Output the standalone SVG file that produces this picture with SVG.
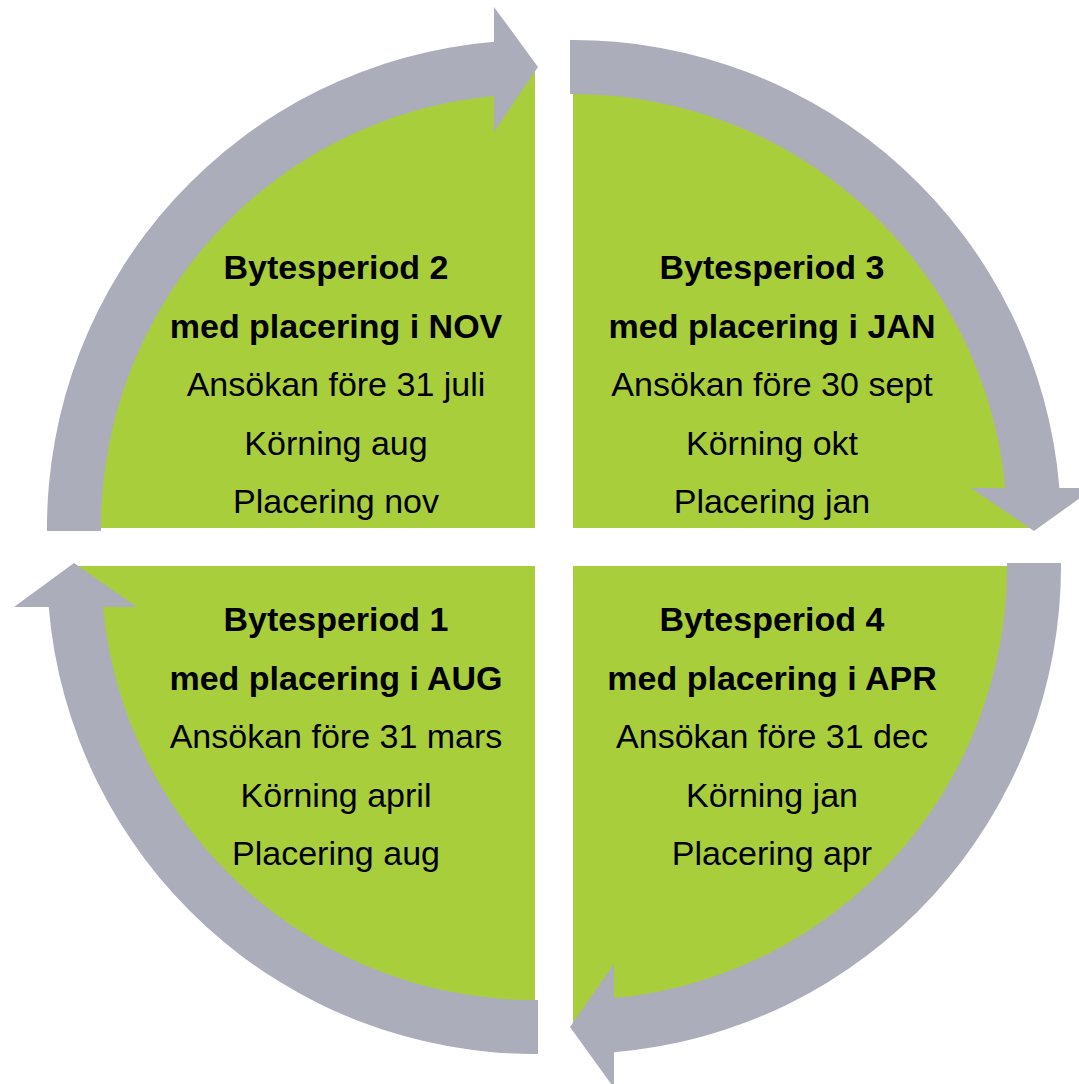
<svg xmlns="http://www.w3.org/2000/svg" width="1079" height="1084" viewBox="0 0 1079 1084">
  <style>
    .quad { fill: #A9CE3B; }
    .arrow { fill: #ACADBA; }
    text { font-family: "Liberation Sans", Arial, sans-serif; font-size: 34px; fill: #000; text-anchor: middle; }
    .title { font-weight: 700; }
  </style>
  <rect width="1079" height="1084" fill="#fff"/>
  <g id="period2">
    <path class="quad" d="M535,528 L74,528 A461,461 0 0 1 535,67 Z"/>
    <text class="title" x="336" y="279">Bytesperiod 2</text>
    <text class="title" x="336" y="337.5">med placering i NOV</text>
    <text x="336" y="396">Ansökan före 31 juli</text>
    <text x="336" y="454.5">Körning aug</text>
    <text x="336" y="513">Placering nov</text>
  </g>
  <g id="period3">
    <path class="quad" d="M573,528 L573,67 A461,461 0 0 1 1034,528 Z"/>
    <text class="title" x="772" y="279">Bytesperiod 3</text>
    <text class="title" x="772" y="337.5">med placering i JAN</text>
    <text x="772" y="396">Ansökan före 30 sept</text>
    <text x="772" y="454.5">Körning okt</text>
    <text x="772" y="513">Placering jan</text>
  </g>
  <g id="period4">
    <path class="quad" d="M573,566 L1034,566 A461,461 0 0 1 573,1027 Z"/>
    <text class="title" x="772" y="631">Bytesperiod 4</text>
    <text class="title" x="772" y="689.5">med placering i APR</text>
    <text x="772" y="748">Ansökan före 31 dec</text>
    <text x="772" y="806.5">Körning jan</text>
    <text x="772" y="865">Placering apr</text>
  </g>
  <g id="period1">
    <path class="quad" d="M535,566 L535,1027 A461,461 0 0 1 74,566 Z"/>
    <text class="title" x="336" y="631">Bytesperiod 1</text>
    <text class="title" x="336" y="689.5">med placering i AUG</text>
    <text x="336" y="748">Ansökan före 31 mars</text>
    <text x="336" y="806.5">Körning april</text>
    <text x="336" y="865">Placering aug</text>
  </g>
  <g id="connectors">
    <path class="arrow" d="M47,531 A488,488 0 0 1 494,41.7 L494,7 L538,67 L494,132 L494,95.9 A434,434 0 0 0 101,531 Z"/>
    <path class="arrow" d="M570,40 A488,488 0 0 1 1059.4,488 L1094,488 L1034,531 L971,488 L1005.2,488 A434,434 0 0 0 570,94 Z"/>
    <path class="arrow" d="M1061,563 A488,488 0 0 1 614,1052.3 L614,1088 L570,1027 L614,964 L614,998.1 A434,434 0 0 0 1007,563 Z"/>
    <path class="arrow" d="M538,1054 A488,488 0 0 1 48.7,607 L14,607 L74,563 L137,607 L102.9,607 A434,434 0 0 0 538,1000 Z"/>
  </g>
</svg>
